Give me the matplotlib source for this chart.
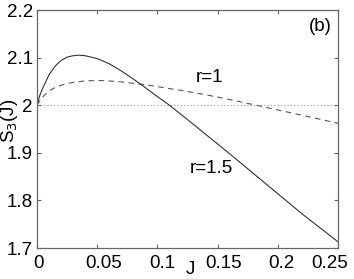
import matplotlib
matplotlib.use("Agg")
import matplotlib.pyplot as plt
import matplotlib.transforms as mtransforms

plt.rcParams["font.family"] = ["Liberation Sans", "DejaVu Sans"]

# S3(J)
J_solid = [0, 0.0025, 0.005, 0.01, 0.015, 0.02, 0.025, 0.03, 0.035, 0.04,
           0.05, 0.06, 0.07, 0.08, 0.09, 0.10, 0.11, 0.12, 0.14, 0.16,
           0.18, 0.20, 0.22, 0.25]
S_solid = [2.000, 2.022, 2.037, 2.064, 2.082, 2.094, 2.101, 2.104, 2.105,
           2.104, 2.098, 2.087, 2.072, 2.055, 2.037, 2.018, 2.000, 1.980,
           1.939, 1.898, 1.856, 1.814, 1.772, 1.713]

J_dash = [0, 0.0025, 0.005, 0.01, 0.015, 0.02, 0.03, 0.04, 0.05, 0.06,
          0.07, 0.08, 0.09, 0.10, 0.12, 0.14, 0.16, 0.18, 0.20, 0.22, 0.25]
S_dash = [2.000, 2.010, 2.018, 2.030, 2.037, 2.042, 2.048, 2.051, 2.052,
          2.051, 2.049, 2.046, 2.043, 2.039, 2.031, 2.022, 2.012, 2.001,
          1.990, 1.979, 1.962]

xticks = [0, 0.05, 0.1, 0.15, 0.2, 0.25]
xticklabels = ["0", "0.05", "0.1", "0.15", "0.2", "0.25"]
yticks = [1.7, 1.8, 1.9, 2.0, 2.1, 2.2]
yticklabels = ["1.7", "1.8", "1.9", "2", "2.1", "2.2"]

fig = plt.figure(figsize=(3.54, 2.79), dpi=100)
ax = fig.add_axes([37 / 354, 1 - 248 / 279, 301 / 354, 238 / 279])

ax.axhline(2.0, color="0.6", lw=0.8, ls=(0, (1, 2)))
ax.plot(J_dash, S_dash, color="0.35", lw=0.8, ls=(0, (5, 4)))
ax.plot(J_solid, S_solid, color="0.2", lw=0.8)

ax.set_xlim(0, 0.25)
ax.set_ylim(1.7, 2.2)
ax.set_xticks(xticks)
ax.set_xticklabels(xticklabels)
ax.set_yticks(yticks)
ax.set_yticklabels(yticklabels)
ax.tick_params(direction="in", length=3, width=0.8, color="0.4",
               top=True, right=True, labelsize=13.5, pad=3)
ax.tick_params(axis="x", pad=5)
for sp in ax.spines.values():
    sp.set_color("0.4")
    sp.set_linewidth(0.9)

# labels sit a little off their ticks in the original, last one pulled in
shift_px = [1, 6, 5, 6, 4, -8]
for lab, dx in zip(ax.get_xticklabels(), shift_px):
    off = mtransforms.ScaledTranslation(dx / 100, 0, fig.dpi_scale_trans)
    lab.set_transform(lab.get_transform() + off)

ax.text(0.94, 0.93, "(b)", transform=ax.transAxes, fontsize=13.5,
        ha="center", va="center")
ax.text(0.143, 2.058, "r=1", fontsize=13.5, ha="center", va="center")
ax.text(0.145, 1.866, "r=1.5", fontsize=13.5, ha="center", va="center")
fig.text(190 / 354, 1 - 270 / 279, "J", fontsize=13.5, ha="center",
         va="center")
fig.text(10 / 354, 1 - 121 / 279, "S$_3$(J)", fontsize=13.5, ha="center",
         va="center", rotation=90)

fig.savefig("out.png", dpi=100)
